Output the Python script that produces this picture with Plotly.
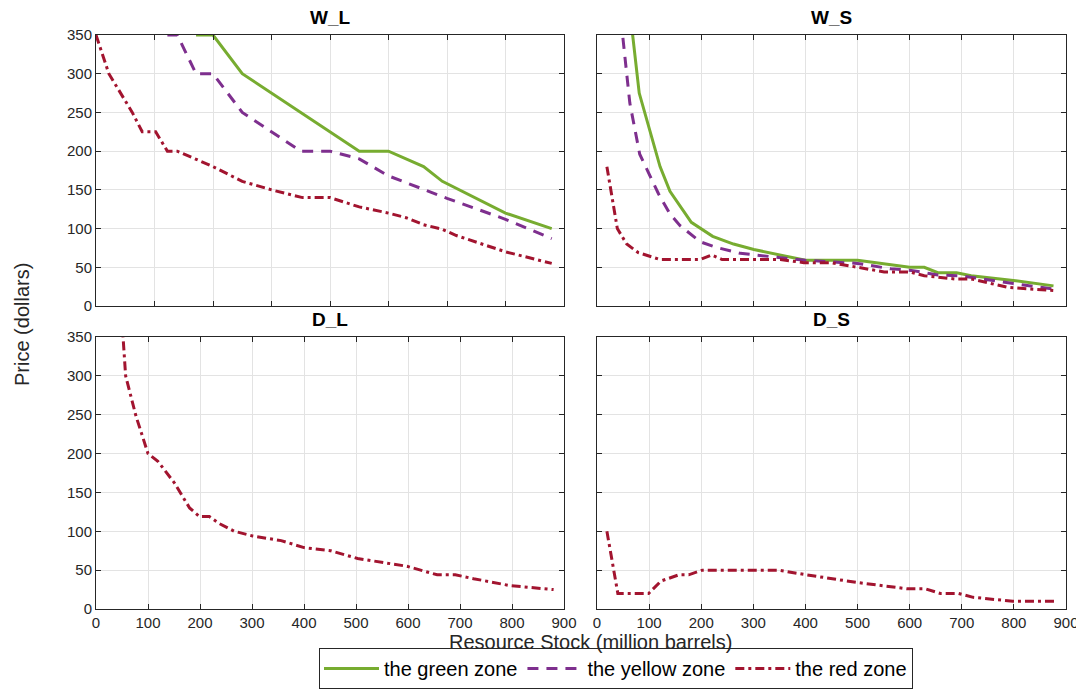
import plotly.graph_objects as go

# ---------------- data ----------------
# W_L panel (its own x scale 0-800)
wl_green_x = [171, 200, 250, 450, 500, 560, 592, 700, 779]
wl_green_y = [350, 350, 300, 200, 200, 180, 161, 120, 100]
wl_yellow_x = [122, 139, 171, 200, 250, 300, 350, 400, 450, 500, 560, 600, 700, 779]
wl_yellow_y = [350, 350, 300, 300, 250, 225, 200, 200, 190, 168, 151, 139, 112, 87]
wl_red_x = [0, 22, 62, 79, 102, 122, 139, 200, 250, 300, 353, 400, 450, 500, 530, 560, 592, 616, 700, 779]
wl_red_y = [350, 300, 250, 225, 225, 200, 200, 180, 161, 150, 140, 140, 128, 120, 114, 105, 99, 91, 70, 55]

# W_S panel
ws_green_x = [60, 81, 121, 140, 181, 222, 262, 301, 400, 500, 600, 628, 654, 690, 718, 799, 876]
ws_green_y = [400, 275, 180, 148, 108, 90, 80, 73, 59, 59, 50, 50, 43, 43, 39, 33, 26]
ws_yellow_x = [42, 63, 82, 101, 118, 140, 159, 198, 227, 275, 320, 400, 449, 500, 564, 603, 654, 699, 799, 876]
ws_yellow_y = [395, 262, 196, 168, 145, 119, 104, 83, 76, 68, 65, 59, 57, 55, 48, 46, 40, 39, 29, 22]
ws_red_x = [19, 39, 57, 79, 121, 198, 220, 240, 352, 397, 449, 500, 551, 600, 628, 686, 718, 789, 876]
ws_red_y = [180, 100, 80, 69, 60, 60, 66, 60, 60, 56, 56, 50, 44, 44, 39, 35, 35, 24, 20]

# D_L panel
dl_red_x = [50, 57, 77, 100, 119, 151, 180, 199, 218, 237, 266, 301, 356, 400, 451, 503, 598, 656, 691, 726, 797, 880]
dl_red_y = [370, 300, 248, 200, 190, 162, 130, 119, 119, 110, 100, 94, 88, 79, 75, 65, 55, 44, 44, 39, 30, 25]

# D_S panel
ds_red_x = [19, 40, 99, 123, 157, 176, 202, 348, 402, 500, 595, 630, 659, 694, 722, 798, 878]
ds_red_y = [100, 20, 20, 36, 44, 44, 50, 50, 44, 34, 26, 26, 20, 20, 15, 10, 10]

panel_titles = ["W_L", "W_S", "D_L", "D_S"]
zone_names = ["the green zone", "the yellow zone", "the red zone"]
x_ticks = [0, 100, 200, 300, 400, 500, 600, 700, 800, 900]
y_ticks = [0, 50, 100, 150, 200, 250, 300, 350]

# ---------------- styles ----------------
GREEN = "#77AC30"
PURPLE = "#7E2F8E"
RED = "#A2142F"
DASH_Y = "11px,8px"
DASH_R = "9px,4px,3px,4px"
LW = 3
FONT = "Liberation Sans, Arial, sans-serif"
AXC = "#262626"

OFF = 8                      # page body margin
W, H = 1084 - OFF, 690 - OFF

def fx(px):
    return (px - OFF) / W

def fy(py):
    return 1 - (py - OFF) / H

colx = [(96, 564), (597, 1066)]
rowy = [(35, 306), (337, 609)]

fig = go.Figure()

def add(x, y, color, dash, name, axis_idx, show):
    suffix = "" if axis_idx == 1 else str(axis_idx)
    fig.add_trace(go.Scatter(x=x, y=y, mode="lines", name=name,
                             line=dict(color=color, width=LW, dash=dash),
                             xaxis="x" + suffix, yaxis="y" + suffix,
                             showlegend=show, legendgroup=name))

add(wl_green_x, wl_green_y, GREEN, "solid", zone_names[0], 1, True)
add(wl_yellow_x, wl_yellow_y, PURPLE, DASH_Y, zone_names[1], 1, True)
add(wl_red_x, wl_red_y, RED, DASH_R, zone_names[2], 1, True)
add(ws_green_x, ws_green_y, GREEN, "solid", zone_names[0], 2, False)
add(ws_yellow_x, ws_yellow_y, PURPLE, DASH_Y, zone_names[1], 2, False)
add(ws_red_x, ws_red_y, RED, DASH_R, zone_names[2], 2, False)
add(dl_red_x, dl_red_y, RED, DASH_R, zone_names[2], 3, False)
add(ds_red_x, ds_red_y, RED, DASH_R, zone_names[2], 4, False)

layout = {}
annotations = []
for i in range(4):
    r, c = divmod(i, 2)
    suffix = "" if i == 0 else str(i + 1)
    x0, x1 = colx[c]
    y0, y1 = rowy[r]
    xr = [0, 800] if i == 0 else [0, 900]
    layout["xaxis" + suffix] = dict(
        domain=[fx(x0), fx(x1)], anchor="y" + suffix, range=xr, automargin=False,
        tickmode="array", tickvals=x_ticks, showticklabels=(r == 1),
        ticks="inside", ticklen=5, tickcolor=AXC, mirror="ticks",
        showline=True, linecolor=AXC, linewidth=1,
        showgrid=True, gridcolor="#e3e3e3", gridwidth=1, zeroline=False,
        tickfont=dict(family=FONT, size=15, color=AXC))
    layout["yaxis" + suffix] = dict(
        domain=[fy(y1), fy(y0)], anchor="x" + suffix, range=[0, 350], automargin=False,
        tickmode="array", tickvals=y_ticks, showticklabels=(c == 0),
        ticks="inside", ticklen=5, tickcolor=AXC, mirror="ticks",
        showline=True, linecolor=AXC, linewidth=1,
        showgrid=True, gridcolor="#e3e3e3", gridwidth=1, zeroline=False,
        tickfont=dict(family=FONT, size=15, color=AXC))
    annotations.append(dict(
        text="<b>" + panel_titles[i] + "</b>", xref="paper", yref="paper",
        x=fx((x0 + x1) / 2), y=fy(y0 - 5), xanchor="center", yanchor="bottom",
        showarrow=False, font=dict(family=FONT, size=19, color="black")))

annotations.append(dict(text="Price (dollars)", xref="paper", yref="paper",
                        x=fx(22), y=fy(325), textangle=-90, showarrow=False,
                        xanchor="center", yanchor="middle",
                        font=dict(family=FONT, size=20, color=AXC)))
annotations.append(dict(text="Resource Stock (million barrels)", xref="paper", yref="paper",
                        x=fx(590), y=fy(642), showarrow=False,
                        xanchor="center", yanchor="middle",
                        font=dict(family=FONT, size=20, color=AXC)))

fig.update_layout(
    width=W, height=H, margin=dict(l=0, r=0, t=0, b=0, autoexpand=False),
    paper_bgcolor="white", plot_bgcolor="white",
    showlegend=True,
    legend=dict(orientation="h", x=fx(616), y=fy(689), xanchor="center", yanchor="bottom",
                bordercolor=AXC, borderwidth=1, bgcolor="white",
                font=dict(family=FONT, size=20, color="black"),
                itemwidth=55, tracegroupgap=0),
    annotations=annotations,
    **layout)

fig.write_html("out.html")
